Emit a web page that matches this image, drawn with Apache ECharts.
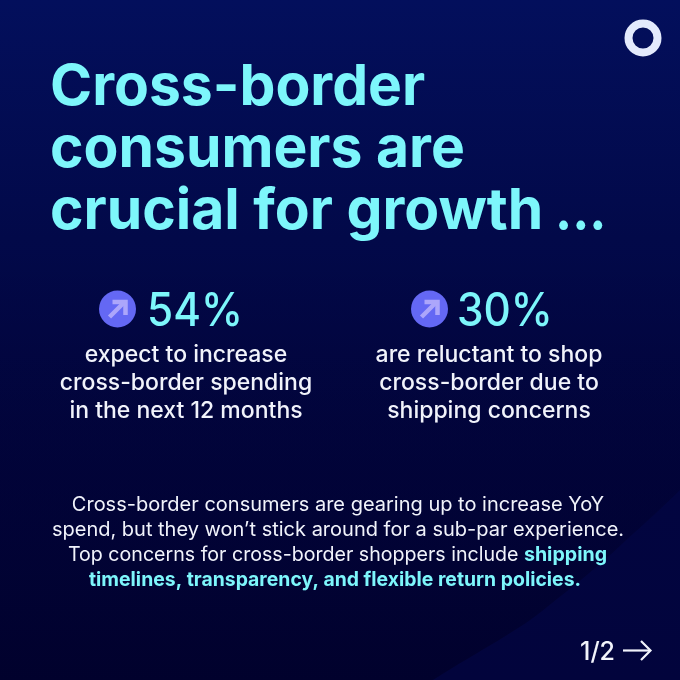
<!DOCTYPE html>
<html><head><meta charset="utf-8">
<style>html,body{margin:0;padding:0;background:#020540}#c{width:680px;height:680px}</style>
<script src="https://cdn.jsdelivr.net/npm/echarts@6/dist/echarts.min.js"></script>
</head><body><div id="c"></div>
<script>
const titleLines = ['Cross-border','consumers are','crucial for growth'];
const titleTail = '...';
const statValues = ['54%','30%'];
const statLabels = [
  ['expect to increase','cross-border spending','in the next 12 months'],
  ['are reluctant to shop','cross-border due to','shipping concerns']
];
const bodyLines = [
  [['Cross-border consumers are gearing up to increase YoY','n']],
  [['spend, but they won\u2019t stick around for a sub-par experience.','n']],
  [['Top concerns for cross-border shoppers include ','n'],['shipping','h']],
  [['timelines, transparency, and flexible return policies.','h']]
];
const pager = '1/2';

const F = 'Inter, "Noto Sans", sans-serif';
const CY = '#7df6fb', WH = '#f1f3fb';
echarts.graphic.registerShape('darkArc', echarts.graphic.extendPath('M0 680L433 680C480 650 520 630 547 607C575 585 600 565 623 543C645 523 665 505 680 490L680 250L0 250Z'));
const g = [];
g.push({type:'rect',shape:{x:0,y:0,width:680,height:680},style:{fill:new echarts.graphic.LinearGradient(0,0,0,1,[
  {offset:0,color:'#030f5c'},{offset:.35,color:'#020949'},{offset:.7,color:'#020541'},{offset:1,color:'#02043c'}])}});
g.push({type:'darkArc',style:{fill:new echarts.graphic.LinearGradient(0,0,0,1,[
  {offset:0,color:'rgba(1,2,48,0)'},{offset:.35,color:'rgba(1,2,48,.35)'},{offset:.7,color:'rgba(1,2,48,.7)'},{offset:1,color:'rgba(1,1,44,.95)'}])}});
g.push({type:'circle',shape:{cx:643,cy:38,r:14.5},style:{fill:'none',stroke:'#e3eafc',lineWidth:8}});
titleLines.forEach((t,i)=>g.push({type:'text',x:50,y:88+i*62,style:{text:t,fill:CY,font:'700 57px '+F,verticalAlign:'middle'}}));
g.push({type:'text',x:555,y:212,scaleX:.9,style:{text:titleTail,fill:CY,font:'700 57px '+F,verticalAlign:'middle'}});
const iconX=[117.5,429.5], valX=[147,457], labX=[186,489];
statValues.forEach((v,i)=>{
  const x=iconX[i],y=309;
  g.push({type:'circle',shape:{cx:x,cy:y,r:18.5},style:{fill:'#6468f4'}});
  g.push({type:'polyline',shape:{points:[[x-8,y+8],[x+7,y-7]]},style:{stroke:'#aca6fb',lineWidth:4.5,fill:'none'}});
  g.push({type:'polyline',shape:{points:[[x-5,y-7],[x+8,y-7],[x+8,y+6]]},style:{stroke:'#aca6fb',lineWidth:4.5,fill:'none'}});
  g.push({type:'text',x:valX[i],y:312,scaleX:.92,style:{text:v,fill:CY,font:'500 46px '+F,verticalAlign:'middle'}});
  statLabels[i].forEach((t,j)=>g.push({type:'text',x:labX[i],y:355+j*28,style:{text:t,fill:WH,font:'500 23px '+F,align:'center',verticalAlign:'middle'}}));
});
const bodyX=[338,338,337.5,335], bodyScale=[1,1,.98,.97];
bodyLines.forEach((runs,i)=>{
  g.push({type:'text',x:bodyX[i],y:505+i*25,scaleX:bodyScale[i],style:{
    text:runs.map(r=>'{'+r[1]+'|'+r[0]+'}').join(''),align:'center',verticalAlign:'middle',
    rich:{n:{fill:WH,font:'400 20px '+F},h:{fill:CY,font:'700 20px '+F}}}});
});
g.push({type:'text',x:580,y:652,style:{text:pager,fill:WH,font:'500 25px '+F,verticalAlign:'middle'}});
g.push({type:'polyline',shape:{points:[[623,650.5],[650,650.5]]},style:{stroke:WH,lineWidth:2.2,fill:'none'}});
g.push({type:'polyline',shape:{points:[[641,641],[650.5,650.5],[641,660]]},style:{stroke:WH,lineWidth:2.2,fill:'none'}});
const chart = echarts.init(document.getElementById('c'),null,{renderer:'canvas',width:680,height:680});
chart.setOption({animation:false,graphic:{elements:g}});
</script></body></html>
